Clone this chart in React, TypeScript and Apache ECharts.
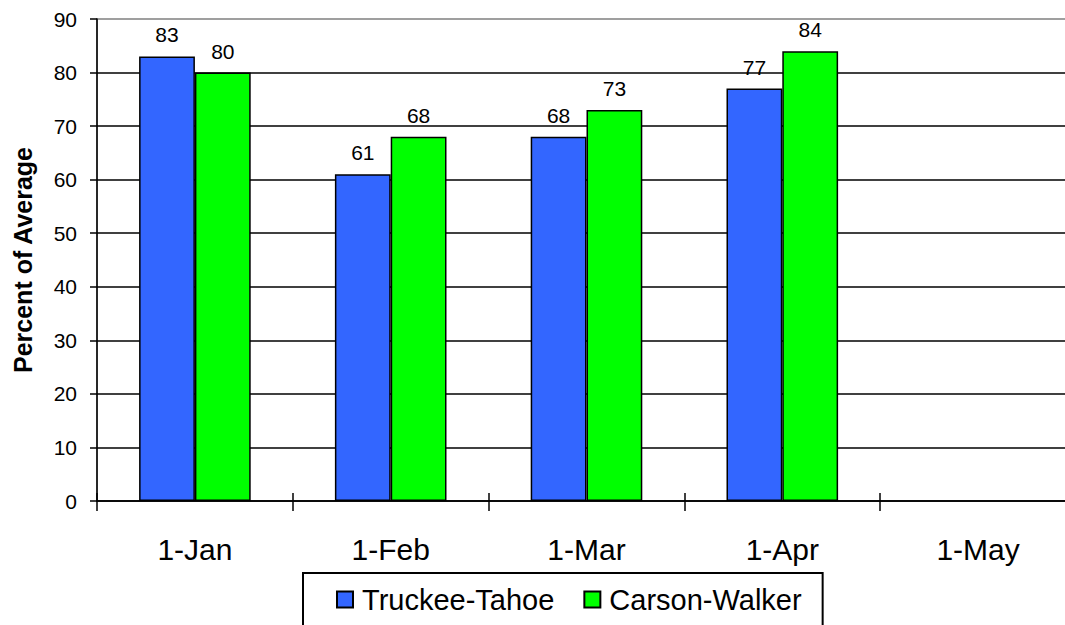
import React, { useEffect, useRef } from "react";
import * as echarts from "echarts";

const categories = ["1-Jan", "1-Feb", "1-Mar", "1-Apr", "1-May"];
const truckeeTahoe: (number | null)[] = [83, 61, 68, 77, null];
const carsonWalker: (number | null)[] = [80, 68, 73, 84, null];
const seriesNames = ["Truckee-Tahoe", "Carson-Walker"];
const yMin = 0;
const yMax = 90;
const yInterval = 10;
const yTitle = "Percent of Average";

const FONT = "'Liberation Sans', Arial, Helvetica, sans-serif";

export default function App() {
  const ref = useRef<HTMLDivElement>(null);
  useEffect(() => {
    if (!ref.current) return;
    const chart = echarts.init(ref.current, undefined, { renderer: "svg" });
    const labelStyle = {
      show: true,
      position: "top" as const,
      distance: 11,
      fontSize: 21,
      fontFamily: FONT,
      color: "#000",
    };
    chart.setOption({
      animation: false,
      backgroundColor: "#fff",
      textStyle: { fontFamily: FONT },
      grid: {
        left: 97,
        top: 19,
        width: 979,
        height: 482,
        containLabel: false,
        outerBoundsMode: "none",
        show: true,
        backgroundColor: "#fff",
        borderColor: "#808080",
        borderWidth: 1.5,
      },
      legend: {
        data: seriesNames,
        left: 303,
        top: 573,
        orient: "horizontal",
        icon: "rect",
        itemWidth: 16,
        itemHeight: 16,
        itemGap: 29,
        padding: [12, 21, 30, 33],
        borderColor: "#000",
        borderWidth: 2,
        backgroundColor: "#fff",
        textStyle: { fontSize: 29, color: "#000", fontFamily: FONT, padding: [0, 0, 0, 4] },
      },
      xAxis: [
        {
          type: "category",
          data: categories,
          position: "bottom",
          axisLine: { show: true, lineStyle: { color: "#000", width: 1.5 } },
          axisTick: { show: true, length: 10, lineStyle: { color: "#000", width: 1.5 } },
          axisLabel: { fontSize: 30, color: "#000", fontFamily: FONT, margin: 33 },
          splitLine: { show: false },
        },
        {
          type: "category",
          data: categories,
          position: "bottom",
          axisLine: { show: false },
          axisTick: { show: true, inside: true, length: 8, lineStyle: { color: "#000", width: 1.5 } },
          axisLabel: { show: false },
          splitLine: { show: false },
        },
      ],
      yAxis: {
        type: "value",
        min: yMin,
        max: yMax,
        interval: yInterval,
        name: yTitle,
        nameLocation: "middle",
        nameGap: 62,
        nameTextStyle: { fontSize: 25, fontWeight: "bold", color: "#000", fontFamily: FONT },
        axisLine: { show: true, lineStyle: { color: "#000", width: 1.5 } },
        axisTick: { show: true, length: 7, lineStyle: { color: "#000", width: 1.5 } },
        axisLabel: { fontSize: 21, color: "#000", fontFamily: FONT, margin: 20 },
        splitLine: {
          show: true,
          showMaxLine: false,
          lineStyle: { color: "#000", width: 1.5 },
        },
      },
      series: [
        {
          name: seriesNames[0],
          type: "bar",
          xAxisIndex: 0,
          data: truckeeTahoe,
          barGap: "0%",
          barCategoryGap: "43%",
          itemStyle: { color: "#3366FF", borderColor: "#000", borderWidth: 1.5 },
          label: labelStyle,
        },
        {
          name: seriesNames[1],
          type: "bar",
          xAxisIndex: 0,
          data: carsonWalker,
          barGap: "0%",
          barCategoryGap: "43%",
          itemStyle: { color: "#00FF00", borderColor: "#000", borderWidth: 1.5 },
          label: labelStyle,
        },
      ],
    });
    return () => chart.dispose();
  }, []);
  return (
    <div
      style={{
        position: "fixed",
        left: 0,
        top: 0,
        width: 1065,
        height: 625,
        overflow: "hidden",
        background: "#fff",
      }}
    >
      <div ref={ref} style={{ width: 1085, height: 625 }} />
    </div>
  );
}
